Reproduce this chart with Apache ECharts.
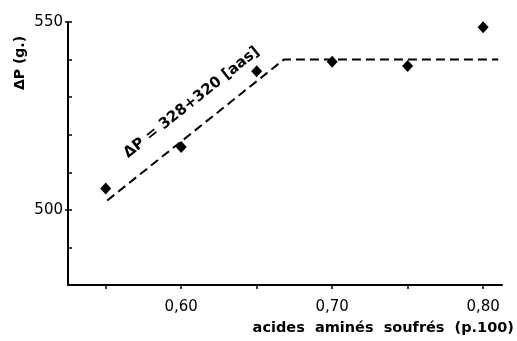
<!DOCTYPE html>
<html>
<head>
<meta charset="utf-8">
<script src="https://cdn.jsdelivr.net/npm/echarts@6/dist/echarts.min.js"></script>
<style>
  html, body { margin: 0; padding: 0; background: #fff; }
</style>
</head>
<body>
<div id="chart" style="width: 517px; height: 341px;"></div>
<script>
// teneur en acides aminés soufrés (p.100) et gain de poids ΔP (g.)
var aas = [0.55, 0.60, 0.65, 0.70, 0.75, 0.80];
var deltaP = [505.7, 516.7, 536.9, 539.4, 538.3, 548.6];

// droite ajustée (tiretée) : pente puis plateau
var fitX = [0.551, 0.668, 0.81];
var fitY = [502.5, 540, 540];

var xTicks = [0.55, 0.60, 0.65, 0.70, 0.75, 0.80];
var xLabels = [0.60, 0.70, 0.80];
var yLabels = [500, 550];

var font = 'DejaVu Sans';

var dom = document.getElementById('chart');
var myChart = echarts.init(dom);

var fitData = [];
for (var i = 0; i < fitX.length; i++) fitData.push([fitX[i], fitY[i]]);
var pts = [];
for (var j = 0; j < aas.length; j++) pts.push([aas[j], deltaP[j]]);

var option = {
    animation: false,
    grid: { left: 68, right: 15, top: 22, bottom: 56 },
    xAxis: {
        type: 'value',
        min: 0.525,
        max: 0.8125,
        splitLine: { show: false },
        axisLine: { lineStyle: { color: '#000', width: 2 } },
        axisTick: { show: true, customValues: xTicks, length: 4, lineStyle: { color: '#000', width: 1.5 } },
        axisLabel: {
            customValues: xLabels,
            color: '#000', fontFamily: font, fontSize: 15, margin: 15,
            formatter: function (v) { return v.toFixed(2).replace('.', ','); }
        },
        name: 'acides  aminés  soufrés  (p.100)',
        nameLocation: 'end',
        nameGap: 12,
        nameTextStyle: {
            color: '#000', fontFamily: font, fontSize: 14.5, fontWeight: 'bold',
            align: 'right', verticalAlign: 'top', padding: [36, 0, 0, 0]
        }
    },
    yAxis: [
        {
            type: 'value',
            min: 480,
            max: 550,
            interval: 10,
            splitLine: { show: false },
            axisLine: { lineStyle: { color: '#000', width: 2 } },
            axisTick: { show: true, inside: true, length: 4, lineStyle: { color: '#000', width: 1.5 } },
            axisLabel: {
                customValues: yLabels,
                color: '#000', fontFamily: font, fontSize: 15, margin: 5,
                verticalAlign: 'middle', padding: [0, 0, 10, 0]
            }
        },
        {
            type: 'value',
            position: 'left',
            min: 480,
            max: 550,
            splitLine: { show: false },
            axisLine: { show: false },
            axisTick: { show: true, customValues: yLabels, length: 3, lineStyle: { color: '#000', width: 1.5 } },
            axisLabel: { show: false }
        }
    ],
    series: [
        {
            type: 'line',
            data: fitData,
            symbol: 'none',
            lineStyle: { color: '#000', width: 2, type: [9, 5] },
            z: 2
        },
        {
            type: 'scatter',
            data: pts,
            symbol: 'diamond',
            symbolSize: [11, 12],
            itemStyle: { color: '#000', opacity: 1 },
            z: 3
        }
    ]
};
myChart.setOption(option);

// texte de la droite, placé le long de la pente
var p1 = myChart.convertToPixel('grid', [fitX[0], fitY[0]]);
var p2 = myChart.convertToPixel('grid', [fitX[1], fitY[1]]);
var ang = Math.atan2(p1[1] - p2[1], p2[0] - p1[0]);
var mid = myChart.convertToPixel('grid', [0.61, 527]);

myChart.setOption({
    graphic: [
        {
            type: 'text',
            x: mid[0], y: mid[1],
            rotation: ang,
            style: {
                text: 'ΔP = 328+320 [aas]',
                fill: '#000', font: 'bold 15px ' + font,
                align: 'center', verticalAlign: 'bottom'
            }
        },
        {
            type: 'text',
            x: 20, y: 63,
            rotation: Math.PI / 2,
            style: {
                text: 'ΔP (g.)',
                fill: '#000', font: 'bold 14px ' + font,
                align: 'center', verticalAlign: 'middle'
            }
        }
    ]
});
</script>
</body>
</html>
